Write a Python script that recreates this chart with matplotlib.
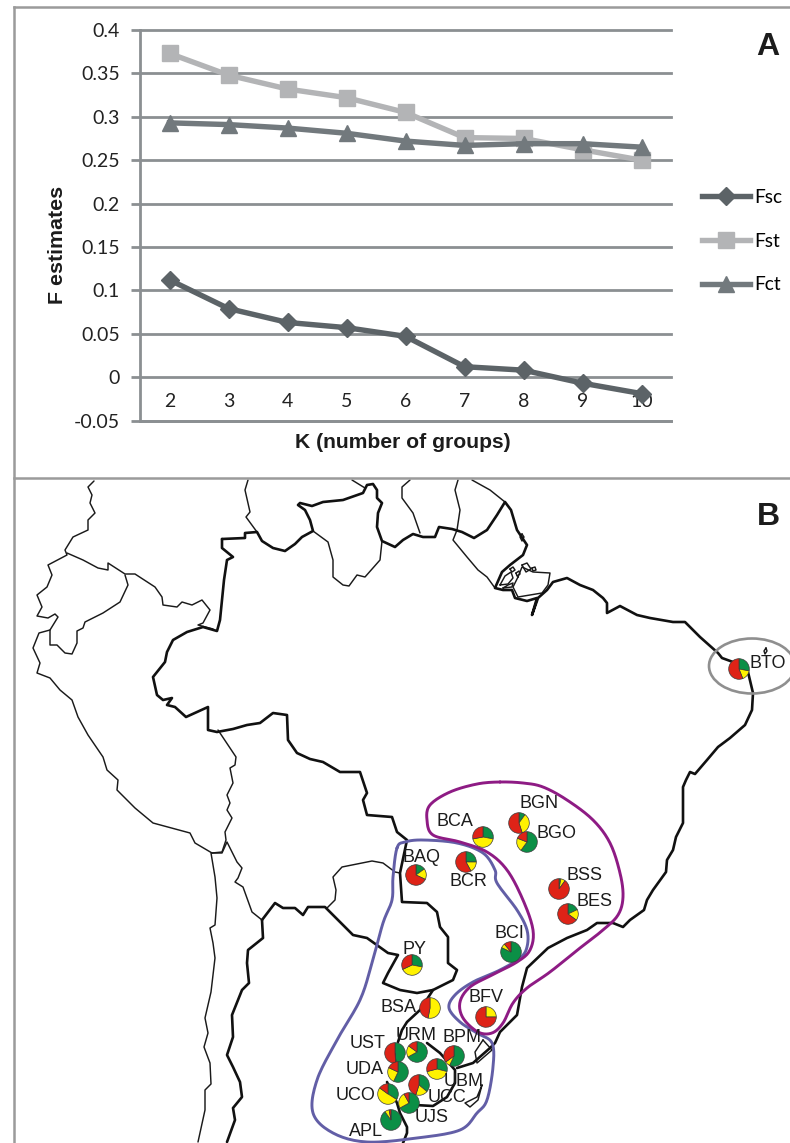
import numpy as np
import matplotlib
matplotlib.use("Agg")
import matplotlib.pyplot as plt
from matplotlib.patches import Ellipse

W, H = 790, 1143

# ---- panel A data ----
k_values = [2, 3, 4, 5, 6, 7, 8, 9, 10]
fsc = [0.112, 0.079, 0.063, 0.057, 0.047, 0.012, 0.008, -0.007, -0.019]
fst = [0.373, 0.348, 0.332, 0.322, 0.305, 0.276, 0.275, 0.262, 0.250]
fct = [0.293, 0.291, 0.287, 0.281, 0.272, 0.267, 0.269, 0.269, 0.265]
y_ticks = [-0.05, 0, 0.05, 0.1, 0.15, 0.2, 0.25, 0.3, 0.35, 0.4]
y_tick_labels = ["-0.05", "0", "0.05", "0.1", "0.15", "0.2", "0.25", "0.3", "0.35", "0.4"]

# ---- panel B data: sites ----
site_names = ["BTO", "BGN", "BGO", "BCA", "BCR", "BAQ", "BSS", "BES", "BCI", "PY", "BSA", "BFV",
              "UST", "URM", "BPM", "UDA", "UCC", "UBM", "UCO", "UJS", "APL"]
site_x = [739, 519, 527, 483, 466, 416, 559, 568, 511, 412, 430, 486, 395, 417, 454, 398, 437, 419, 388, 409, 391]
site_y = [669, 823, 842, 837, 862, 875, 889, 914, 952, 965, 1008, 1017, 1053, 1052, 1056, 1072, 1069, 1085, 1094, 1103, 1120]
label_x = [768, 539, 557, 455, 468, 421, 584, 595, 509, 414, 398, 486, 368, 416, 462, 365, 447, 464, 356, 432, 366]
label_y = [664, 803, 833, 822, 882, 858, 875, 902, 933, 949, 1007, 998, 1044, 1036, 1038, 1070, 1098, 1081, 1096, 1118, 1131]
green_share = [0.28, 0.10, 0.60, 0.28, 0.25, 0.15, 0.03, 0.18, 0.82, 0.28, 0.00, 0.00, 0.48, 0.67, 0.57, 0.57, 0.29, 0.36, 0.34, 0.67, 0.90]
yellow_share = [0.16, 0.35, 0.21, 0.44, 0.17, 0.17, 0.07, 0.17, 0.07, 0.40, 0.53, 0.25, 0.01, 0.18, 0.08, 0.25, 0.42, 0.19, 0.51, 0.25, 0.07]
red_share = [0.56, 0.55, 0.19, 0.28, 0.58, 0.68, 0.90, 0.65, 0.11, 0.32, 0.47, 0.75, 0.51, 0.15, 0.35, 0.18, 0.29, 0.45, 0.15, 0.08, 0.03]

# ---- panel B outlines ----
brazil = [(222,539),(245,538),(245,533),(257,532),(262,541),(273,548),(285,551),(295,544),(302,537),(313,531),
          (310,520),(305,510),(298,505),(300,503),(312,506),(323,502),(343,500),(363,493),(367,485),(373,484),
          (377,490),(377,498),(382,503),(378,513),(377,527),(382,541),(395,547),(403,540),(413,534),(423,537),
          (435,537),(439,527),(452,529),(462,532),(474,538),(487,530),(497,515),(505,502),(511,510),(517,530),
          (527,545),(523,555),(510,565),(502,572),(495,588),(503,590),(512,590),(515,598),(527,601),(537,598),
          (532,615),(538,598),(547,590),(553,582),(567,578),(580,585),(593,590),(603,598),(607,603),(607,613),
          (620,606),(637,615),(650,618),(673,622),(685,622),(700,637),(718,653),(722,658),(733,662),(748,672),
          (753,693),(752,710),(745,725),(730,738),(718,747),(707,760),(695,774),(690,772),(686,780),(683,787),
          (683,823),(676,837),(673,850),(667,860),(666,872),(653,890),(647,900),(644,910),(630,920),(623,927),
          (613,923),(597,923),(587,930),(567,938),(548,948),(527,968),(522,987),(517,1015),(500,1032),(495,1043),
          (490,1048),(473,1063),(457,1068)]
brazil_west = [(222,539),(222,548),(233,557),(227,560),(224,580),(220,620),(217,631),(203,627),(187,632),(173,640),
               (167,652),(165,662),(153,677),(157,695),(163,700),(172,698),(167,705),(175,707),(186,717),(208,707),
               (208,730),(217,732),(233,729),(247,725),(260,723),(273,713),(287,715),(288,740),(297,753),(310,759),
               (323,762),(340,772),(360,772),(365,787),(367,793),(363,800),(367,815),(392,817),(397,832),(407,840),
               (400,873),(402,902),(427,903),(437,912),(440,927),(448,937),(448,963),(457,970),(453,980),(433,990),
               (420,1010),(407,1022),(402,1030),(398,1042)]
uruguay_river = [(427,1043),(440,1053),(455,1070),(455,1083),(447,1097),(433,1106),(415,1105)]
argentina_coast = [(387,1082),(397,1103),(400,1113),(407,1127),(407,1133),(403,1143)]
bolivia_south = [(262,920),(275,903),(283,908),(295,908),(303,915),(308,907),(325,907),(353,935),(367,938),(388,953),
                 (398,955),(388,973),(383,983),(400,990),(417,993),(433,990)]
chile_east = [(262,920),(263,938),(248,950),(247,963),(249,983),(242,990),(232,1015),(233,1037),(227,1055),(233,1067),
              (240,1082),(242,1097),(233,1108),(235,1120),(227,1142)]
thin_lines = [
    [(218,730),(236,757),(235,765),(230,768),(233,783),(227,795),(230,803),(227,810),(232,818),(225,832),(226,840),(222,852),(212,853)],
    [(94,481),(88,487),(92,495),(90,503),(95,513),(88,520),(88,530),(73,537),(65,550),(67,555),(48,565),(52,575),(47,587),
     (37,595),(42,607),(37,616),(48,618),(55,614),(58,617),(50,630),(39,633),(33,648),(40,663),(37,673),(50,678),(60,690),
     (72,700),(78,717),(88,735),(103,757),(107,770),(118,780),(117,790),(135,808),(153,823),(190,833),(195,843),(212,853)],
    [(67,553),(83,560),(98,568),(108,570),(108,563),(125,574),(135,574),(155,587),(162,597),(163,605),(177,607),(182,602),
     (192,605),(202,600),(210,610),(203,623),(198,625),(213,629)],
    [(125,575),(128,585),(120,602),(103,613),(85,622),(83,628),(77,631),(77,643),(72,654),(65,653),(57,645),(50,645),(50,630)],
    [(248,480),(245,490),(250,512),(246,517),(257,532)],
    [(313,531),(328,542),(333,560),(333,577),(343,585),(349,586),(357,575),(365,577),(380,560),(382,541)],
    [(352,480),(365,488)],
    [(410,480),(402,487),(402,498),(413,513),(420,533)],
    [(458,480),(455,490),(460,510),(457,530),(453,540),(467,557),(478,570),(487,577),(495,588)],
    [(472,480),(490,490),(505,502)],
    [(518,577),(522,567),(533,572),(550,573),(548,585),(542,593),(518,597),(513,587),(518,577)],
    [(211,853),(215,877),(217,898),(215,925),(210,928),(213,943),(215,958),(211,992),(205,1018),(208,1033),(204,1047),
     (210,1063),(211,1084),(205,1090),(205,1110),(198,1142)],
    [(212,853),(222,853),(227,842),(237,862),(242,868),(238,878),(235,882),(243,887),(252,912),(262,920)],
    [(327,908),(335,900),(336,890),(333,877),(342,867),(372,861),(383,863),(395,872),(400,873)],
    [(483,1040),(475,1052),(477,1063),(492,1050),(483,1040)],
    [(482,1085),(477,1097),(465,1103),(470,1107),(478,1100),(482,1085)],
    [(522,534),(524,537),(522,541),(520,537),(522,534)],
    [(766,648),(767,651),(765,654),(764,651),(766,648)],
    [(500,585),(505,576),(511,572),(513,578),(508,584),(500,585)],
    [(503,588),(508,585),(513,583),(512,587),(503,588)],
    [(510,569),(513,567),(515,570),(512,572),(510,569)],
    [(516,573),(519,571),(520,574),(517,576),(516,573)],
    [(522,565),(527,563),(531,569),(526,572),(522,565)],
    [(532,568),(535,567),(536,570),(533,571),(532,568)],
]
purple_group = [(500,782),(523,783),(543,787),(567,800),(593,820),(610,843),(620,873),(623,897),(618,915),(603,930),
                (580,948),(550,972),(527,988),(513,1003),(503,1023),(492,1033),(478,1032),(463,1018),(460,1002),
                (470,987),(492,975),(517,962),(530,950),(533,930),(523,900),(507,870),(487,852),(460,842),(433,835),
                (427,820),(430,805),(450,792),(477,784)]
blue_group = [(397,848),(405,842),(423,840),(457,843),(483,853),(495,870),(497,883),(517,910),(527,930),(527,947),
              (520,958),(500,970),(473,982),(455,995),(449,1008),(460,1022),(477,1033),(492,1043),(493,1067),(487,1100),
              (477,1113),(460,1130),(417,1138),(367,1142),(333,1133),(313,1113),(317,1080),(337,1040),(360,1000),
              (372,963),(383,923),(392,900),(393,877)]


def closed_smooth(points, n=12):
    """Catmull-Rom closed curve through the traced outline points."""
    p = np.array(points, float)
    out = []
    m = len(p)
    for i in range(m):
        p0, p1, p2, p3 = p[i - 1], p[i], p[(i + 1) % m], p[(i + 2) % m]
        for t in np.linspace(0, 1, n, endpoint=False):
            out.append(0.5 * ((2 * p1) + (-p0 + p2) * t + (2 * p0 - 5 * p1 + 4 * p2 - p3) * t ** 2
                              + (-p0 + 3 * p1 - 3 * p2 + p3) * t ** 3))
    out.append(out[0])
    return np.array(out)


fig = plt.figure(figsize=(W / 100, H / 100), dpi=100, facecolor="white")

# ---- map layer (whole figure, pixel units, y measured from the top) ----
mp = fig.add_axes([0, 0, 1, 1])


def draw(points, lw, color="#111111", z=2):
    xy = np.array(points, float)
    mp.plot(xy[:, 0], H - xy[:, 1], color=color, lw=lw, solid_joinstyle="round", solid_capstyle="round", zorder=z)


for line in thin_lines:
    draw(line, 1.05, "#1a1a1a")
for line in [brazil, brazil_west, uruguay_river, argentina_coast, chile_east, bolivia_south]:
    draw(line, 1.9)

draw(closed_smooth(blue_group), 2.1, "#625ea6", 3)
draw(closed_smooth(purple_group), 2.1, "#8e1b84", 3)
mp.add_patch(Ellipse((752, H - 666), 86, 55, fill=False, ec="#8f8f8f", lw=1.9, zorder=3))

for i, name in enumerate(site_names):
    mp.pie([green_share[i], yellow_share[i], red_share[i]], colors=["#0b8f46", "#fff200", "#de2317"],
           center=(site_x[i], H - site_y[i]), radius=10.3, startangle=90, counterclock=False, frame=True,
           wedgeprops=dict(edgecolor="#3a3a3a", linewidth=0.5, zorder=4))
    mp.text(label_x[i], H - label_y[i], name, ha="center", va="center", fontsize=13,
            family="Liberation Sans", color="#1c1c1c", zorder=5)

# panel frame
frame_color = "#9b9b9b"
mp.plot([14, 14], [0, H - 7], color=frame_color, lw=1.8, zorder=6)
mp.plot([14, W], [H - 7, H - 7], color=frame_color, lw=1.8, zorder=6)
mp.plot([14, W], [H - 478, H - 478], color=frame_color, lw=1.8, zorder=6)

mp.text(768, H - 47, "A", ha="center", va="center", fontsize=23, fontweight="bold", family="Liberation Sans", color="#1c1c1c")
mp.text(768, H - 517, "B", ha="center", va="center", fontsize=23, fontweight="bold", family="Liberation Sans", color="#1c1c1c")

mp.set_xlim(0, W)
mp.set_ylim(0, H)
mp.axis("off")

# ---- panel A chart ----
left, right, top, bottom = 140, 671, 30, 420.5
ax = fig.add_axes([left / W, 1 - bottom / H, (right - left) / W, (bottom - top) / H])
ax.patch.set_alpha(0)
grid_color = "#8b8f92"
ax.set_xlim(1.5, 10.5)
ax.set_ylim(-0.05, 0.4)
ax.set_yticks(y_ticks, y_tick_labels)
ax.set_xticks(k_values, [str(k) for k in k_values])
ax.yaxis.grid(True, color=grid_color, lw=2.0, zorder=1, clip_on=False)
ax.set_axisbelow(True)
for s in ["top", "right"]:
    ax.spines[s].set_visible(False)
for s in ["left", "bottom"]:
    ax.spines[s].set_color(grid_color)
    ax.spines[s].set_linewidth(2.0)
ax.tick_params(axis="y", length=6.5, width=2.0, color=grid_color, pad=8, labelsize=14, labelcolor="#222222")
ax.tick_params(axis="x", length=0, pad=-20, labelsize=14, labelcolor="#222222")
for t in ax.get_xticklabels() + ax.get_yticklabels():
    t.set_family("Lato")

l_sc, = ax.plot(k_values, fsc, color="#5c6367", lw=3.9, marker="D", ms=9, mec="#5c6367", label="Fsc", zorder=3, clip_on=False)
l_st, = ax.plot(k_values, fst, color="#b3b4b6", lw=3.9, marker="s", ms=11.5, mec="#b3b4b6", label="Fst", zorder=3, clip_on=False)
l_ct, = ax.plot(k_values, fct, color="#72797d", lw=3.9, marker="^", ms=12, mec="#72797d", label="Fct", zorder=4, clip_on=False)

ax.set_ylabel("F estimates", fontsize=15.4, fontweight="bold", family="Liberation Sans", color="#1c1c1c", va="center")
ax.yaxis.set_label_coords((58 - left) / (right - left), (bottom - 245) / (bottom - top))
ax.set_xlabel("K (number of groups)", fontsize=15.2, fontweight="bold", family="Liberation Sans", color="#1c1c1c")
ax.xaxis.set_label_coords((403 - left) / (right - left), -(442 - bottom) / (bottom - top))
ax.xaxis.label.set_va("center")

leg = fig.legend(handles=[l_sc, l_st, l_ct], loc="center left", bbox_to_anchor=(702 / W, 1 - 241 / H),
                 frameon=False, prop={"family": "Lato", "size": 13.8}, handlelength=2.5, handletextpad=0.2,
                 labelspacing=1.4, borderpad=0, borderaxespad=0)

fig.savefig("out.png", dpi=100)
